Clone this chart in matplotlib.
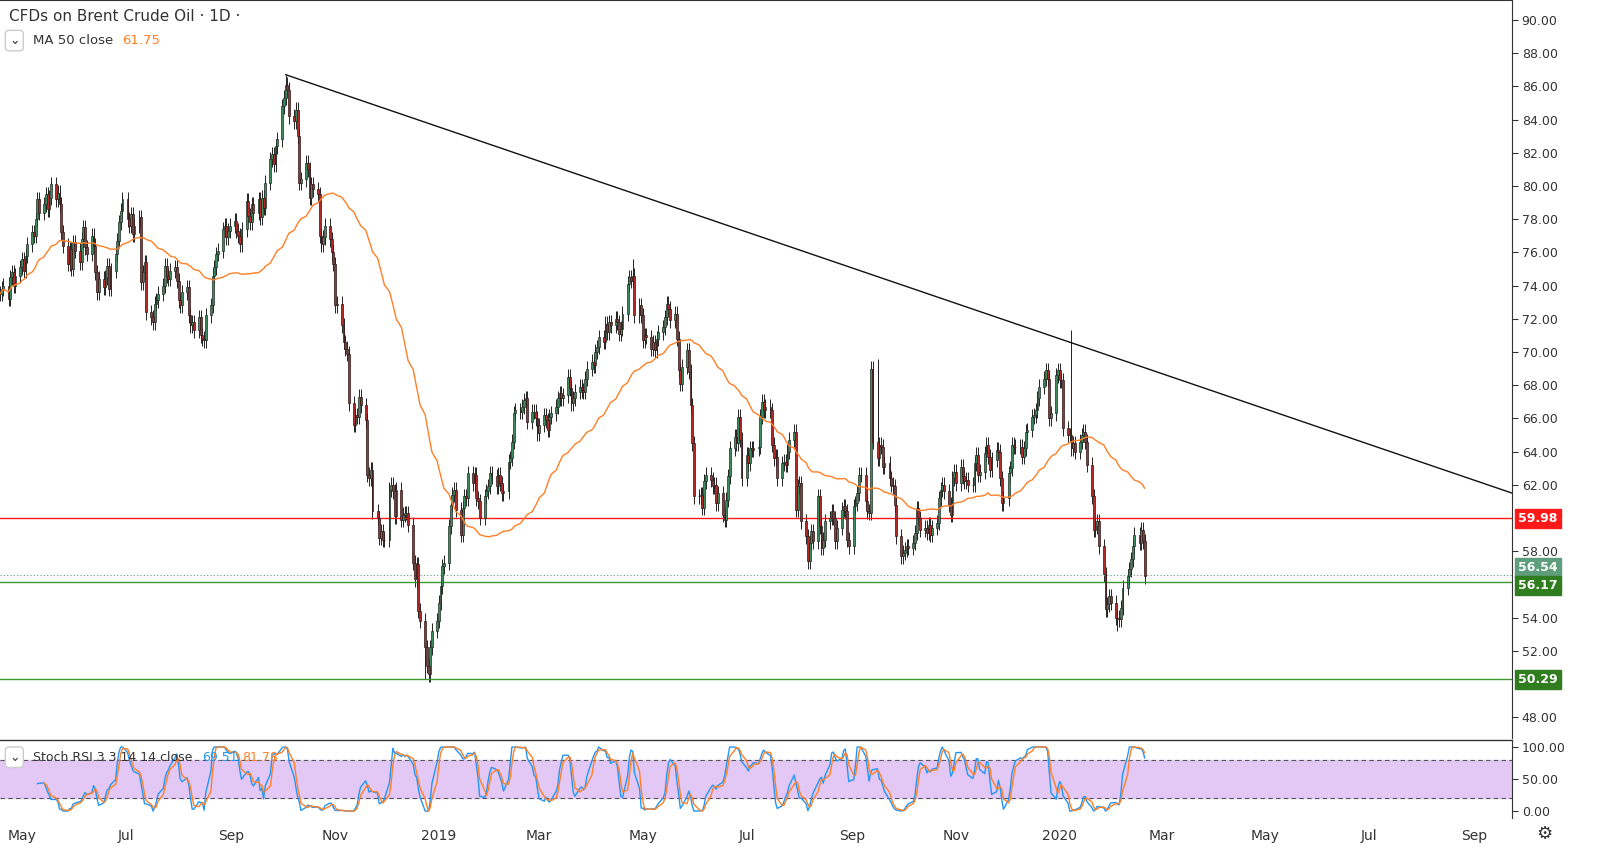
import numpy as np
import pandas as pd
import matplotlib
matplotlib.use('Agg')
import matplotlib.pyplot as plt
import matplotlib.dates as mdates

# daily closes, month by month
closes = (
    [73.5,73.8,74.0,73.2,74.5,74.8,74.0,74.6,75.1]
    + [75.6,74.9,75.8,76.5,77.2,77.0,78.0,79.2,78.4,78.9,79.5,78.6,79.3,80.1,79.2,79.6,78.9,77.2,76.4,75.3,76.2,75.0,76.6]
    + [76.1,75.4,76.8,77.5,76.3,75.9,77.0,76.4,74.8,73.6,74.4,73.9,74.5,75.2,73.8,74.9,75.9,76.7,77.8,78.5,79.2]
    + [78.0,77.6,78.3,77.1,77.6,78.1,74.2,74.8,75.4,72.4,72.1,71.8,72.9,73.1,73.5,74.0,75.2,74.6,74.4,74.9,75.1,74.3]
    + [73.1,72.8,73.6,73.9,72.2,71.6,71.8,71.3,72.1,71.0,70.8,70.7,72.2,72.8,74.6,75.1,75.9,76.1,77.4,77.6,76.9,77.3,77.6]
    + [77.9,77.3,77.0,76.5,77.4,79.1,78.2,77.8,78.9,78.4,79.2,78.1,79.3,78.7,80.2,81.6,81.9,81.3,82.4,82.8]
    + [84.8,85.3,86.1,85.8,84.2,83.9,84.6,83.0,80.2,80.4,81.4,81.0,79.3,80.1,79.8,79.5,77.0,76.5,76.9,77.6,76.8,76.0,75.3]
    + [72.8,72.9,71.6,70.6,70.2,69.9,66.9,65.6,66.2,66.1,67.3,66.8,65.9,62.6,62.4,62.9,60.4,60.0,58.8,59.2,58.7,58.7]
    + [61.7,62.0,61.6,60.1,61.7,59.9,60.2,60.3,60.3,59.6,57.3,56.3,57.2,54.4,53.8,52.2,51.1,50.6,52.2,53.2,53.8]
    + [54.9,55.9,57.1,57.3,59.5,60.8,61.4,61.7,60.5,59.0,60.6,61.3,61.2,62.7,62.1,62.6,61.2,61.0,60.0,61.3,61.6,61.9]
    + [62.7,62.5,61.9,62.6,62.1,61.5,61.6,63.4,63.6,64.6,66.3,66.5,66.4,66.7,67.1,67.2,65.8,66.4,66.4,66.0]
    + [65.1,65.6,66.2,65.9,65.3,66.1,66.3,66.7,67.2,67.5,67.2,67.4,68.5,67.8,66.9,67.2,67.6,67.9,67.7,67.6,68.4]
    + [69.0,69.4,69.2,70.0,70.3,70.9,70.6,71.7,71.2,71.8,71.6,72.0,71.8,71.1,71.4,72.3,74.1,74.5,74.3,74.6,72.2,72.8]
    + [72.2,70.7,71.0,70.9,70.2,70.6,70.1,70.8,71.2,71.5,72.1,72.9,72.6,71.9,72.3,70.8,68.9,68.1,69.1,70.1,68.8,66.8,64.5]
    + [61.3,61.3,61.4,60.6,62.2,62.6,62.3,61.9,62.0,60.9,61.5,60.2,59.9,61.1,62.5,64.2,64.9,64.5,66.1,64.7]
    + [62.4,63.8,63.3,64.2,64.1,64.2,64.3,66.1,67.0,66.5,66.7,66.5,64.4,63.6,63.7,62.4,63.3,63.4,63.2,64.0,64.7,65.2]
    + [60.5,61.9,62.1,59.8,58.9,57.4,58.5,59.2,58.6,61.3,59.5,58.2,58.7,59.8,60.0,60.4,60.0,58.6,59.4,60.5,60.7,60.4]
    + [58.7,58.3,60.7,60.9,61.5,62.6,62.6,61.0,60.4,60.3,69.0,64.6,63.6,64.4,64.3,63.1,63.3,62.4,62.0,61.9,60.8]
    + [58.9,57.7,57.9,58.1,58.3,58.2,58.5,59.1,60.6,60.0,59.3,59.4,59.1,59.6,59.0,59.4,59.7,61.2,61.7,62.0,61.6,60.8,60.2]
    + [62.4,62.8,62.1,63.1,62.5,62.2,62.3,62.0,62.0,63.3,63.8,62.6,62.8,63.9,64.4,63.7,62.9,63.5,64.1,64.0,62.4]
    + [60.9,61.2,62.7,63.0,64.4,64.3,64.3,64.3,63.7,64.2,65.2,65.3,66.1,66.2,66.5,67.2,67.9,68.4,68.9,68.4,66.0]
    + [66.3,68.6,68.9,68.3,68.3,65.4,65.0,65.0,64.2,64.5,64.0,64.6,65.0,65.2,64.6,63.2,61.3,59.3,59.5,59.8,58.3,56.6]
    + [54.5,54.8,55.3,54.9,54.0,54.0,53.9,54.6,55.8,56.5,56.9,57.5,58.3,59.0,58.5,59.3,58.6,56.5]
)
start_date = '2018-04-18'
# notable intraday extremes
spike_highs = {'2018-10-03': 86.7, '2019-09-16': 69.6, '2020-01-08': 71.3, '2019-04-25': 75.6}
spike_lows = {'2018-12-24': 50.3, '2020-02-04': 53.2}

levels_red = [59.98]
levels_green = [56.17, 50.29]
last_price = 56.54
trend_dates = ['2018-10-03', '2020-09-23']
trend_prices = [86.7, 61.5]

ma_label = '61.75'
k_label, d_label = '69.51', '81.78'

close = pd.Series(closes, index=pd.bdate_range(start_date, periods=len(closes)))
opens = close.shift(1).fillna(close.iloc[0]).values
c = close.values
highs = np.maximum(opens, c) + 0.45
lows = np.minimum(opens, c) - 0.45
for dt, v in spike_highs.items():
    i = close.index.get_indexer([pd.Timestamp(dt)], method='nearest')[0]
    highs[i] = v
for dt, v in spike_lows.items():
    i = close.index.get_indexer([pd.Timestamp(dt)], method='nearest')[0]
    lows[i] = v
ma = close.rolling(50, min_periods=1).mean()

# stoch rsi 3 3 14 14
delta = close.diff()
gain = delta.clip(lower=0).ewm(alpha=1/14, adjust=False).mean()
loss = (-delta.clip(upper=0)).ewm(alpha=1/14, adjust=False).mean()
rsi = 100 - 100 / (1 + gain / loss)
st = (rsi - rsi.rolling(14).min()) / (rsi.rolling(14).max() - rsi.rolling(14).min()) * 100
k = st.rolling(3).mean()
d = k.rolling(3).mean()

fig = plt.figure(figsize=(16, 8.6), dpi=100)
ax = fig.add_axes([0, 0.1419, 0.945, 0.8581])
ax2 = fig.add_axes([0, 0.0488, 0.945, 0.0907], sharex=ax)

x = mdates.date2num(close.index)
up = c >= opens
ax.vlines(x, lows, highs, color='#222222', lw=0.7, zorder=2)
ax.bar(x[up], (c - opens)[up], bottom=opens[up], width=1.1, color='#3d8b5e', edgecolor='#1f2f25', lw=0.5, zorder=3)
ax.bar(x[~up], (opens - c)[~up], bottom=c[~up], width=1.1, color='#b02a2a', edgecolor='#2a1a1a', lw=0.5, zorder=3)
ax.plot(x, ma.values, color='#ff7f27', lw=1.0, zorder=4)

ax.plot(mdates.datestr2num(trend_dates), trend_prices, color='#111111', lw=1.0, zorder=5)
for lv in levels_red:
    ax.axhline(lv, color='#ff1a1a', lw=1.0)
for lv in levels_green:
    ax.axhline(lv, color='#3d9a2f', lw=1.0)
ax.axhline(last_price, color='#5a9a78', lw=0.8, ls=(0, (1, 2)))

ax.set_ylim(46.75, 91.2)
ax.set_xlim(mdates.datestr2num('2018-04-18'), mdates.datestr2num('2020-09-23'))
ax.yaxis.tick_right()
# tick labels hidden behind the price boxes are left out
ticks = [t for t in np.arange(48, 91, 2) if t not in (50, 56, 60)]
ax.set_yticks(ticks)
ax.yaxis.set_major_formatter(matplotlib.ticker.FormatStrFormatter('%.2f'))
ax.tick_params(axis='y', labelsize=9, colors='#333333', length=4, pad=3)
ax.tick_params(axis='x', bottom=False, labelbottom=False)
for s in ['left', 'bottom']:
    ax.spines[s].set_visible(False)
ax.spines['right'].set_color('#333333')
ax.spines['top'].set_color('#333333')

def price_box(ax_, val, fc, y=None):
    ax_.text(1.004, val if y is None else y, f'{val:.2f}', transform=ax_.get_yaxis_transform(),
             va='center', ha='left', fontsize=9, color='white', fontweight='bold',
             bbox=dict(boxstyle='square,pad=0.25', fc=fc, ec=fc), zorder=10)

price_box(ax, 59.98, '#ff1a1a')
price_box(ax, 56.54, '#5f9e7c', y=57.0)
price_box(ax, 56.17, '#2f7d1f', y=55.95)
price_box(ax, 50.29, '#2f7d1f')

ax.text(0.006, 0.978, 'CFDs on Brent Crude Oil · 1D ·', transform=ax.transAxes, fontsize=11, color='#333333', va='center')
ax.text(0.006, 0.945, '⌄', transform=ax.transAxes, fontsize=9, color='#333333', va='center',
        bbox=dict(boxstyle='round,pad=0.3', fc='white', ec='#cccccc'))
ax.text(0.022, 0.945, 'MA 50 close', transform=ax.transAxes, fontsize=9.5, color='#333333', va='center')
ax.text(0.081, 0.945, ma_label, transform=ax.transAxes, fontsize=9.5, color='#ff7f27', va='center')

# stoch rsi panel
ax2.axhspan(20, 80, color='#e3c8f5', zorder=0)
ax2.axhline(80, color='#555555', lw=0.8, ls=(0, (4, 3)))
ax2.axhline(20, color='#555555', lw=0.8, ls=(0, (4, 3)))
ax2.plot(x, k.values, color='#2196f3', lw=1.0)
ax2.plot(x, d.values, color='#ff7f27', lw=1.0)
ax2.set_ylim(-10.9, 110.9)
ax2.yaxis.tick_right()
ax2.set_yticks([0, 50, 100])
ax2.yaxis.set_major_formatter(matplotlib.ticker.FormatStrFormatter('%.2f'))
ax2.tick_params(axis='y', labelsize=9, colors='#333333', length=4, pad=3)
for s in ['left', 'bottom', 'top']:
    ax2.spines[s].set_visible(False)
ax2.spines['right'].set_color('#333333')
ax2.axhline(110.9, color='#333333', lw=1.0, clip_on=False)
ax2.text(0.006, 0.78, '⌄', transform=ax2.transAxes, fontsize=9, color='#333333', va='center',
         bbox=dict(boxstyle='round,pad=0.3', fc='white', ec='#cccccc'))
ax2.text(0.022, 0.78, 'Stoch RSI 3 3 14 14 close', transform=ax2.transAxes, fontsize=9, color='#333333', va='center')
ax2.text(0.134, 0.78, k_label, transform=ax2.transAxes, fontsize=9, color='#2196f3', va='center')
ax2.text(0.160, 0.78, d_label, transform=ax2.transAxes, fontsize=9, color='#ff7f27', va='center')

tick_dates = ['2018-05-01', '2018-07-01', '2018-09-01', '2018-11-01', '2019-01-01', '2019-03-01',
              '2019-05-01', '2019-07-01', '2019-09-01', '2019-11-01', '2020-01-01', '2020-03-01',
              '2020-05-01', '2020-07-01', '2020-09-01']
tick_labels = ['May', 'Jul', 'Sep', 'Nov', '2019', 'Mar', 'May', 'Jul', 'Sep', 'Nov', '2020', 'Mar', 'May', 'Jul', 'Sep']
ax2.set_xticks(mdates.datestr2num(tick_dates))
ax2.set_xticklabels(tick_labels)
ax2.tick_params(axis='x', labelsize=10, colors='#333333', length=0, pad=8)
fig.text(0.965, 0.03, '⚙', fontsize=13, color='#333333', ha='center', va='center')

fig.savefig('out.png', dpi=100)
